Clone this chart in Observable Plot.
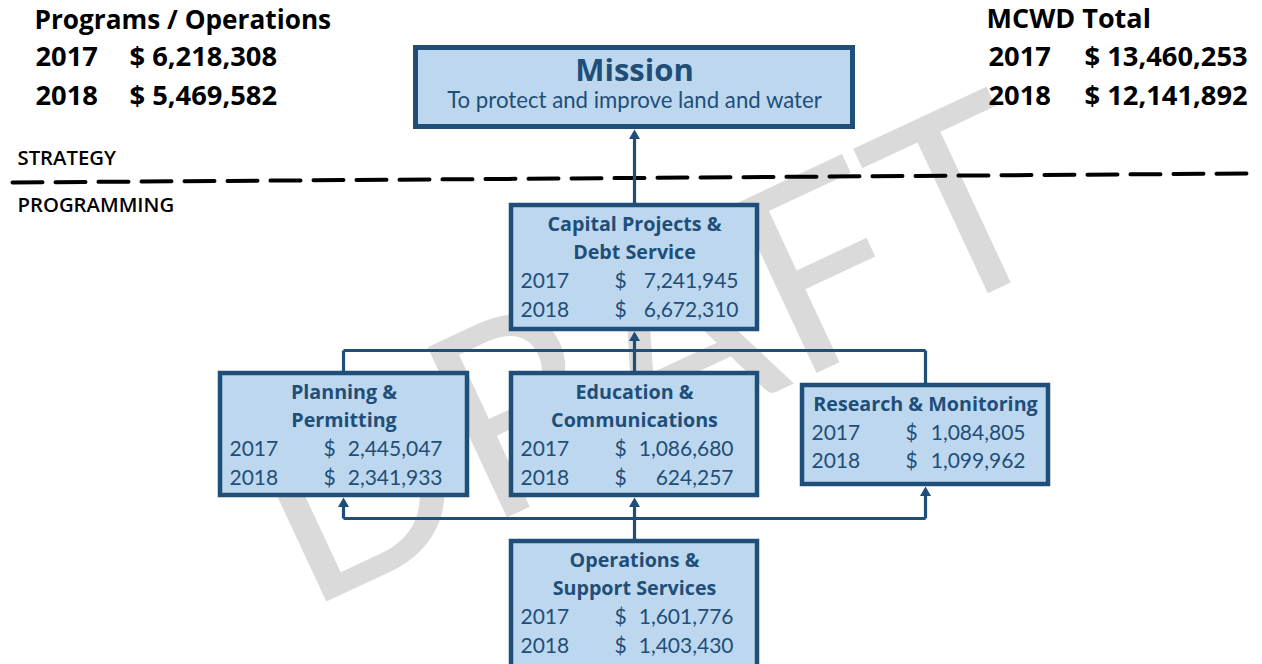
<!DOCTYPE html>
<html>
<head>
<meta charset="utf-8">
<script src="https://cdn.jsdelivr.net/npm/d3@7"></script>
<script src="https://cdn.jsdelivr.net/npm/@observablehq/plot@0.6"></script>
<style>
  html, body { margin: 0; padding: 0; background: #ffffff; }
  svg { display: block; }
</style>
</head>
<body>
<div id="chart"></div>
<script>
// ---------- data ----------
const years = ["2017", "2018"];
const programsLabel = "Programs / Operations";
const programsTotals = [6218308, 5469582];
const totalLabel = "MCWD Total";
const mcwdTotals = [13460253, 12141892];
const missionTitle = "Mission";
const missionText = "To protect and improve land and water";
const sectionLabels = ["STRATEGY", "PROGRAMMING"];
const watermark = "DRAFT";

const unitTitles = [
  ["Capital Projects &", "Debt Service"],
  ["Planning &", "Permitting"],
  ["Education &", "Communications"],
  ["Research & Monitoring"],
  ["Operations &", "Support Services"]
];
const budget2017 = [7241945, 2445047, 1086680, 1084805, 1601776];
const budget2018 = [6672310, 2341933, 624257, 1099962, 1403430];

// ---------- layout (pixel positions of the diagram) ----------
const missionBox = {x1: 415.5, x2: 852.5, y1: 47.5, y2: 126.5};
const unitBoxes = [
  {x1: 511, x2: 757, y1: 205, y2: 329, left: 509, top: 203, numRight: 738},
  {x1: 220, x2: 467, y1: 373, y2: 495, left: 218, top: 371, numRight: 442},
  {x1: 511, x2: 757, y1: 373, y2: 495, left: 509, top: 371, numRight: 733},
  {x1: 802, x2: 1048, y1: 385, y2: 484, left: 800, top: 383, numRight: 1025},
  {x1: 511, x2: 757, y1: 541, y2: 672, left: 509, top: 539, numRight: 733}
];
const connectors = [
  [634, 205, 634, 136], [634, 373, 634, 338],
  [343, 350, 925, 350], [343, 350, 343, 373], [925, 350, 925, 385],
  [634, 541, 634, 504], [343, 518, 925, 518], [343, 518, 343, 504], [925, 518, 925, 493]
];
const arrowTips = [[634, 129], [634, 331], [634, 497], [343, 497], [925, 486]];
const divider = [[12, 182], [1250, 173]];

// ---------- build text records ----------
const fmt = d3.format(",");
const titleTexts = [], labelTexts = [], numberTexts = [];
unitBoxes.forEach((b, i) => {
  const cx = (b.x1 + b.x2) / 2;
  const lines = unitTitles[i];
  lines.forEach((t, k) => titleTexts.push({x: cx, y: b.top + 21 + 28.5 * k, text: t}));
  const vals = [budget2017[i], budget2018[i]];
  years.forEach((yr, j) => {
    const yy = b.top + 21 + 28.5 * (lines.length + j);
    labelTexts.push({x: b.left + 11, y: yy, text: yr});
    labelTexts.push({x: b.left + 105, y: yy, text: "$"});
    numberTexts.push({x: b.numRight, y: yy, text: fmt(vals[j])});
  });
});

const headerTitles = [
  {x: 34, y: 20.5, text: programsLabel, size: 26.2},
  {x: 986, y: 18.5, text: totalLabel, size: 27}
];
const headerRows = [];
years.forEach((yr, j) => {
  const yy = j === 0 ? 57 : 96;
  headerRows.push({x: 35, y: yy, text: yr});
  headerRows.push({x: 129, y: yy, text: "$ " + fmt(programsTotals[j])});
  headerRows.push({x: 988, y: yy, text: yr});
  headerRows.push({x: 1084, y: yy, text: "$ " + fmt(mcwdTotals[j])});
});

const blue = "#1f4e79";
const fill = "#bdd7ee";
const lato = "Lato, 'Open Sans', sans-serif";
const open = "'Open Sans', Lato, sans-serif";

const chart = Plot.plot({
  width: 1262,
  height: 664,
  margin: 0,
  x: {type: "identity", axis: null},
  y: {type: "identity", axis: null},
  style: {background: "#ffffff", fontFamily: lato},
  marks: [
    Plot.text([watermark], {x: () => 651, y: () => 357, text: d => d, rotate: -25, fontSize: 262, fill: "#dadada", fontWeight: 400}),
    Plot.line(divider, {x: d => d[0], y: d => d[1], stroke: "#000000", strokeWidth: 4, strokeDasharray: "30,13"}),
    Plot.link(connectors, {x1: d => d[0], y1: d => d[1], x2: d => d[2], y2: d => d[3], stroke: blue, strokeWidth: 3.2}),
    Plot.rect([missionBox], {x1: "x1", x2: "x2", y1: "y1", y2: "y2", fill, stroke: blue, strokeWidth: 5}),
    Plot.rect(unitBoxes, {x1: "x1", x2: "x2", y1: "y1", y2: "y2", fill, stroke: blue, strokeWidth: 4.5}),
    Plot.dot(arrowTips, {x: d => d[0], y: d => d[1] + 6.3, symbol: "triangle", r: 4.1, fill: blue, stroke: "none"}),
    Plot.text([missionTitle], {x: () => 634, y: () => 71, text: d => d, fontSize: 31, fontWeight: 700, fill: blue, fontFamily: open}),
    Plot.text([missionText], {x: () => 634, y: () => 100, text: d => d, fontSize: 22.2, fill: blue}),
    Plot.text(titleTexts, {x: "x", y: "y", text: "text", textAnchor: "middle", fontWeight: 700, fontSize: 19.7, fill: blue, fontFamily: open}),
    Plot.text(labelTexts, {x: "x", y: "y", text: "text", textAnchor: "start", fontSize: 21, fill: blue}),
    Plot.text(numberTexts, {x: "x", y: "y", text: "text", textAnchor: "end", fontSize: 21, fill: blue}),
    Plot.text(headerTitles.slice(0, 1), {x: "x", y: "y", text: "text", textAnchor: "start", fontSize: 26.2, fontWeight: 700, fill: "#000000", fontFamily: open}),
    Plot.text(headerTitles.slice(1), {x: "x", y: "y", text: "text", textAnchor: "start", fontSize: 27, fontWeight: 700, fill: "#000000", fontFamily: open}),
    Plot.text(headerRows, {x: "x", y: "y", text: "text", textAnchor: "start", fontSize: 27.3, fontWeight: 700, fill: "#000000", fontFamily: open}),
    Plot.text(sectionLabels, {x: () => 17, y: (d, i) => i === 0 ? 157.5 : 204.5, text: d => d, textAnchor: "start", fontSize: 20.3, fontWeight: 600, fill: "#000000", fontFamily: open})
  ]
});
document.getElementById("chart").appendChild(chart);
</script>
</body>
</html>
